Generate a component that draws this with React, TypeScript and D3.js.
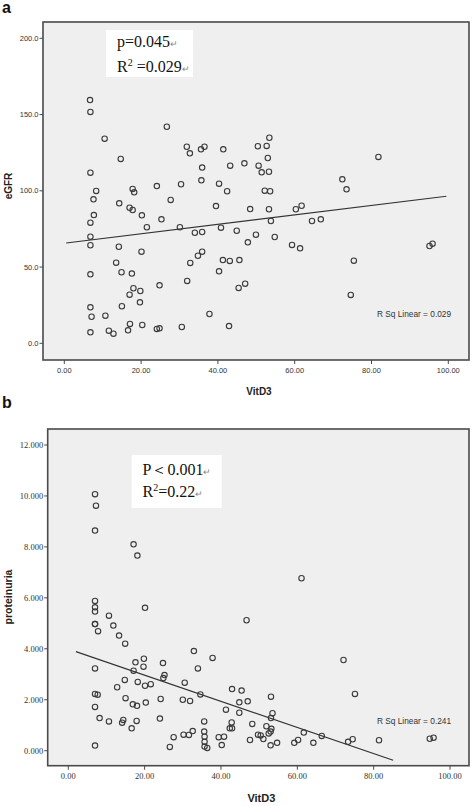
import React from "react";
import * as d3 from "d3";

// ---------- Data ----------
// Panel a: VitD3 vs eGFR
const aVitD3 = [6.7, 6.8, 10.5, 26.7, 14.7, 6.8, 31.9, 32.7, 35.6, 36.5, 41.4, 43.2, 35.9, 35.7, 40.3, 42.4, 30.4, 24.1, 17.8, 18.2, 8.3, 7.6, 27.7, 14.3, 17.0, 39.5, 17.8,
  7.7, 20.2, 6.8, 25.3, 21.5, 30.1, 40.8, 44.9, 6.8, 6.8, 34.0, 35.9, 14.2, 20.1, 35.9, 34.8, 13.5, 32.8, 41.3, 43.1, 45.6, 6.8, 14.9, 17.6, 40.3, 18.0, 19.8, 17.0, 24.8, 32.0, 45.4, 19.7, 6.8, 15.0, 7.1, 10.7, 37.8, 17.1, 20.3, 30.6, 24.1, 24.8, 42.9, 6.8, 11.6, 12.8, 16.6,
  46.9, 53.4, 50.4, 52.7, 53.0, 50.6, 51.4, 53.3, 52.2, 53.6, 81.8, 72.4, 73.5, 48.4, 53.3, 60.3, 61.8,
  53.8, 64.5, 66.8, 49.9, 47.8, 54.8, 59.3, 61.4, 47.1, 75.4, 74.6, 95.1, 95.9];
const aEGFR = [159.5, 151.7, 134.2, 142.0, 120.9, 111.9, 128.9, 124.6, 127.2, 128.9, 127.2, 116.5, 115.2, 106.9, 104.7, 99.7, 104.3, 103.1, 101.2, 99.0, 99.9, 94.4, 94.0, 91.8, 88.9, 90.0, 87.4,
  84.1, 83.9, 79.1, 81.3, 76.1, 76.1, 75.8, 73.8, 69.9, 64.3, 72.5, 73.0, 63.3, 60.1, 60.1, 57.4, 52.9, 52.7, 54.6, 54.0, 54.6, 45.2, 46.6, 45.7, 47.2, 36.1, 34.3, 31.9, 38.0, 40.9, 36.3, 26.9, 23.6, 24.3, 17.4, 18.1, 19.2, 12.7, 12.0, 10.7, 9.4, 9.8, 11.3, 7.2, 8.3, 6.3, 8.5,
  118.0, 134.8, 129.2, 129.4, 121.5, 116.5, 112.1, 112.5, 100.1, 99.7, 122.2, 107.5, 101.0, 88.0, 87.9, 87.9, 90.2,
  80.2, 80.2, 81.3, 71.2, 66.2, 69.7, 64.5, 62.3, 39.1, 54.2, 31.7, 63.8, 65.3];
const aFitRange = [0.5, 99.5];
const aFitIntercept = 65.6;
const aFitSlope = 0.31;
const aXTicks = [0, 20, 40, 60, 80, 100];
const aYTicks = [0, 50, 100, 150, 200];

// Panel b: VitD3 vs proteinuria
const bVitD3 = [7.0, 7.25, 7.0, 17.1, 18.1, 7.0, 20.1, 7.0, 7.0, 7.0, 10.65, 7.0, 11.8, 7.8, 13.3, 14.9, 32.9, 37.8, 7.0, 19.8, 17.6, 24.8, 19.7, 33.95, 17.1, 25.2, 24.9, 14.8, 18.2, 30.5, 21.6, 20.1, 12.8,
  7.0, 7.7, 34.6, 15.0, 24.2, 30.0, 31.9, 20.3, 16.9, 18.0, 7.0, 41.3, 8.2, 10.65, 14.4, 14.1, 17.9, 24.0, 35.6, 16.6, 42.8, 42.3, 42.9, 32.6, 35.6, 35.7, 30.2, 31.6, 27.6, 39.4, 40.8, 35.7, 40.2, 7.0, 26.6, 35.7, 36.4,
  42.9, 44.8, 44.8, 46.7, 72.1, 75.1, 45.4, 53.1, 47.0, 48.2, 51.9, 53.2, 53.0, 52.5, 61.7, 66.4, 49.7, 50.4, 51.1, 47.6, 54.7, 53.0, 59.2, 60.2, 64.2, 73.3, 74.5, 81.4, 94.7, 95.7, 61.1, 53.5, 53.1];
const bProteinuria = [10.07, 9.62, 8.64, 8.10, 7.66, 5.88, 5.61, 5.63, 5.46, 4.97, 5.30, 4.97, 4.91, 4.69, 4.52, 4.20, 3.91, 3.64, 3.23, 3.61, 3.47, 3.44, 3.30, 3.23, 3.14, 2.97, 2.85, 2.78, 2.70, 2.67, 2.61, 2.55, 2.49,
  2.23, 2.20, 2.21, 2.06, 2.03, 2.00, 1.95, 1.89, 1.82, 1.76, 1.72, 1.61, 1.28, 1.15, 1.21, 1.10, 1.17, 1.26, 1.15, 0.88, 1.11, 0.88, 0.88, 0.77, 0.75, 0.55, 0.63, 0.62, 0.53, 0.53, 0.55, 0.35, 0.22, 0.20, 0.15, 0.16, 0.11,
  2.42, 1.90, 1.49, 5.12, 3.56, 2.23, 2.36, 2.12, 1.94, 1.05, 0.96, 0.86, 0.75, 0.68, 0.71, 0.58, 0.63, 0.60, 0.46, 0.42, 0.31, 0.21, 0.31, 0.42, 0.31, 0.35, 0.45, 0.41, 0.47, 0.51, 6.77, 1.47, 1.28];
const bFitRange = [2.0, 85.1];
const bFitIntercept = 3.99;
const bFitSlope = -0.0513;
const bXTicks = [0, 20, 40, 60, 80, 100];
const bYTicks = [0, 2, 4, 6, 8, 10, 12];

// ---------- Layout ----------
const W = 472;
const H = 806;

const sans = "'Liberation Sans', Arial, sans-serif";
const serif = "'Liberation Serif', 'Times New Roman', serif";
const frameColor = "#4a4a4a";
const markColor = "#3a3a3a";

type PanelProps = {
  xs: number[];
  ys: number[];
  frame: { left: number; top: number; right: number; bottom: number };
  xRange: [number, number];
  yRange: [number, number];
  xDomain: [number, number];
  yDomain: [number, number];
  xTicks: number[];
  yTicks: number[];
  xFmt: string;
  yFmt: string;
  fitRange: number[];
  fitA: number;
  fitB: number;
  tickFont: string;
  tickSize: number;
  rsqText: string;
  rsqPos: [number, number];
  xTitleY: number;
  xTitleSize: number;
  yTitle: string;
  yTitleY: number;
  yTitleSize: number;
};

function Panel(p: PanelProps) {
  const x = d3.scaleLinear().domain(p.xDomain).range(p.xRange);
  const y = d3.scaleLinear().domain(p.yDomain).range(p.yRange);
  const fx = d3.format(p.xFmt);
  const fy = d3.format(p.yFmt);
  const f = p.frame;
  const line = d3
    .line<number>()
    .x((d) => x(d))
    .y((d) => y(p.fitA + p.fitB * d));
  return (
    <g>
      <rect x={f.left} y={f.top} width={f.right - f.left} height={f.bottom - f.top} fill="#efefef" stroke={frameColor} strokeWidth={1.6} />
      {p.yTicks.map((t) => (
        <g key={"y" + t}>
          <line x1={f.left - 3.5} x2={f.left} y1={y(t)} y2={y(t)} stroke={frameColor} strokeWidth={1} />
          <text x={f.left - 4.5} y={y(t)} dy="0.33em" textAnchor="end" fontFamily={p.tickFont} fontSize={p.tickSize} fill="#333">
            {fy(t)}
          </text>
        </g>
      ))}
      {p.xTicks.map((t) => (
        <g key={"x" + t}>
          <line x1={x(t)} x2={x(t)} y1={f.bottom} y2={f.bottom + 4} stroke={frameColor} strokeWidth={1} />
          <text x={x(t)} y={f.bottom + 13} textAnchor="middle" fontFamily={p.tickFont} fontSize={p.tickSize} fill="#333">
            {fx(t)}
          </text>
        </g>
      ))}
      <path d={line(p.fitRange) || ""} fill="none" stroke="#333" strokeWidth={1.2} />
      {p.xs.map((v, i) => (
        <circle key={i} cx={x(v)} cy={y(p.ys[i])} r={2.7} fill="none" stroke={markColor} strokeWidth={1.1} />
      ))}
      <text x={p.rsqPos[0]} y={p.rsqPos[1]} fontFamily={sans} fontSize={8.3} fill="#333">
        {p.rsqText}
      </text>
      <text x={(f.left + f.right) / 2 + 3} y={p.xTitleY} textAnchor="middle" fontFamily={sans} fontWeight="bold" fontSize={p.xTitleSize} fill="#222">
        VitD3
      </text>
      <text
        transform={`translate(8,${p.yTitleY}) rotate(-90)`}
        textAnchor="middle"
        dominantBaseline="central"
        fontFamily={sans}
        fontWeight="bold"
        fontSize={p.yTitleSize}
        fill="#222"
      >
        {p.yTitle}
      </text>
    </g>
  );
}

export default function App() {
  return (
    <svg width={W} height={H} style={{ position: "absolute", left: 0, top: 0, background: "#fff" }}>
      <rect x={0} y={0} width={W} height={H} fill="#fff" />
      {/* Panel a */}
      <text x={2} y={12.5} fontFamily={sans} fontWeight="bold" fontSize={16} fill="#111">a</text>
      <Panel
        xs={aVitD3}
        ys={aEGFR}
        frame={{ left: 43, top: 22, right: 469, bottom: 360 }}
        xRange={[64.3, 448.3]}
        yRange={[343.3, 38.3]}
        xDomain={[0, 100]}
        yDomain={[0, 200]}
        xTicks={aXTicks}
        yTicks={aYTicks}
        xFmt=".2f"
        yFmt=".1f"
        fitRange={aFitRange}
        fitA={aFitIntercept}
        fitB={aFitSlope}
        tickFont={sans}
        tickSize={7.5}
        rsqText="R Sq Linear = 0.029"
        rsqPos={[377, 317]}
        xTitleY={395}
        xTitleSize={10}
        yTitle="eGFR"
        yTitleY={186}
        yTitleSize={10}
      />
      <rect x={106} y={30} width={87} height={47} fill="#fff" />
      <text x={117} y={47} fontFamily={serif} fontSize={16} fill="#111">
        p=0.045<tspan fontSize={9} fill="#888">↵</tspan>
      </text>
      <text x={117} y={72} fontFamily={serif} fontSize={16} fill="#111">
        R<tspan fontSize={10} dy={-6}>2</tspan>
        <tspan dy={6}> =0.029</tspan>
        <tspan fontSize={9} fill="#888">↵</tspan>
      </text>

      {/* Panel b */}
      <text x={2} y={408} fontFamily={sans} fontWeight="bold" fontSize={16} fill="#111">b</text>
      <Panel
        xs={bVitD3}
        ys={bProteinuria}
        frame={{ left: 47.7, top: 429, right: 469, bottom: 765.7 }}
        xRange={[68.3, 450]}
        yRange={[750.7, 445]}
        xDomain={[0, 100]}
        yDomain={[0, 12]}
        xTicks={bXTicks}
        yTicks={bYTicks}
        xFmt=".2f"
        yFmt=".3f"
        fitRange={bFitRange}
        fitA={bFitIntercept}
        fitB={bFitSlope}
        tickFont={serif}
        tickSize={8.5}
        rsqText="R Sq Linear = 0.241"
        rsqPos={[377, 724]}
        xTitleY={802}
        xTitleSize={11}
        yTitle="proteinuria"
        yTitleY={597}
        yTitleSize={10.5}
      />
      <rect x={131.7} y={455} width={90} height={53} fill="#fff" />
      <text x={142.5} y={475} fontFamily={serif} fontSize={16} fill="#111">
        P＜0.001<tspan fontSize={9} fill="#888">↵</tspan>
      </text>
      <text x={142.5} y={497} fontFamily={serif} fontSize={16} fill="#111">
        R<tspan fontSize={10} dy={-6}>2</tspan>
        <tspan dy={6}>=0.22</tspan>
        <tspan fontSize={9} fill="#888">↵</tspan>
      </text>
    </svg>
  );
}
